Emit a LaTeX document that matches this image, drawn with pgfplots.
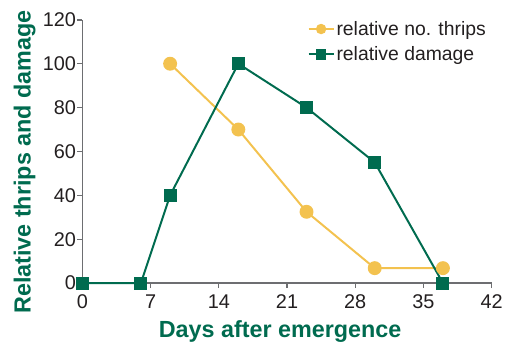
\documentclass[border=0pt]{standalone}
\usepackage{pgfplots}
\pgfplotsset{compat=1.18}
\usepackage{fontspec}
\setmainfont{Liberation Sans}
\definecolor{dgreen}{HTML}{006B4F}
\definecolor{tyellow}{HTML}{F3C24F}
\definecolor{axgray}{HTML}{6D6E71}
\definecolor{txt}{HTML}{231F20}
\begin{document}
\begin{tikzpicture}
\begin{axis}[
  scale only axis,
  width=412pt, height=265pt,
  xmin=0, xmax=42, ymin=0, ymax=120,
  xtick={0,7,...,42}, ytick={0,20,...,120},
  axis x line*=bottom, axis y line*=left,
  axis line style={axgray, line width=1.3pt, -},
  tick style={axgray, line width=1.3pt},
  tick align=outside, major tick length=5pt,
  ticklabel style={font=\fontsize{20}{20}\selectfont, text=txt},
  xticklabel style={yshift=-3pt},
  yticklabel style={xshift=2pt},
  /pgf/number format/assume math mode=true,
  xlabel={Days after emergence}, ylabel={Relative thrips and damage},
  label style={font=\fontsize{23.5}{23.5}\selectfont\bfseries, text=dgreen},
  xlabel style={at={(axis description cs:0.483,0)}, anchor=base, yshift=-55pt},
  ylabel style={at={(axis description cs:-0.141,0.46)}, anchor=center, rotate=0},
  clip=false,
  legend style={draw=none, fill=none, at={(axis description cs:0.55,1.003)}, anchor=north west,
    font=\fontsize{19.5}{19.5}\selectfont, text=txt, row sep=6pt, inner sep=0pt},
  legend cell align=left,
  legend image code/.code={\draw[mark repeat=2,mark phase=2,#1,mark size=4.2pt] plot coordinates {(0pt,0pt)(12.5pt,0pt)(25pt,0pt)};},
]
\addplot[tyellow, only marks, mark=*, mark size=6pt, forget plot] coordinates {(0,0)};
\addplot[tyellow, line width=2pt, mark=*, mark size=6pt] coordinates {(9,100) (16,70) (23,32.5) (30,6.8) (37,6.8)};
\addlegendentry{relative no. thrips}
\addplot[dgreen, line width=2pt, mark=square*, mark size=5.5pt] coordinates {(0,0) (6,0) (9,40) (16,100) (23,80) (30,55) (37,0)};
\addlegendentry{relative damage}
\end{axis}
\path (current axis.south west) ++(-83pt,-62pt) rectangle ++(506pt,347pt);
\end{tikzpicture}
\end{document}
